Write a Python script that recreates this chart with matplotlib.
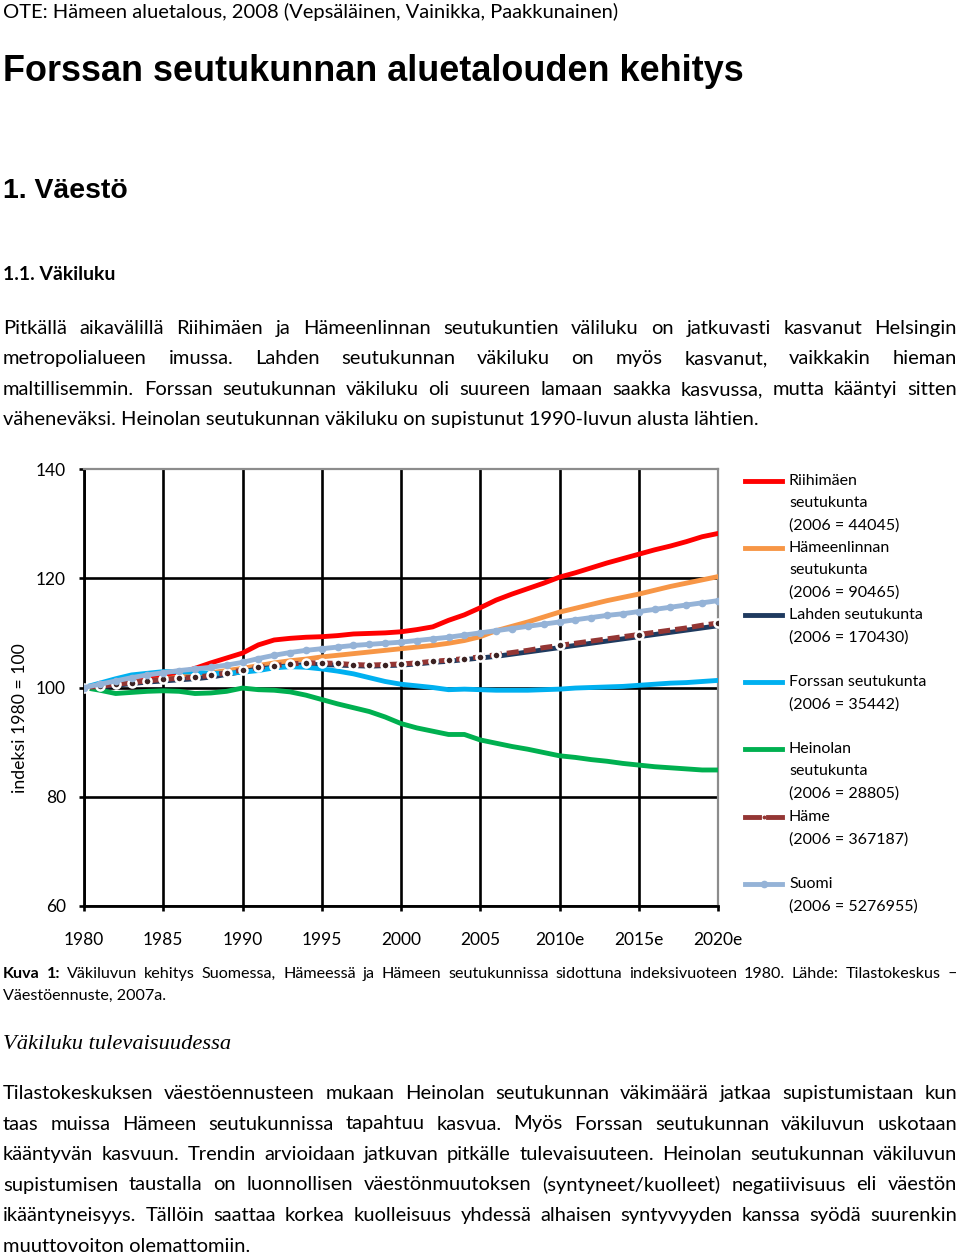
import matplotlib
matplotlib.use("Agg")
import matplotlib.pyplot as plt
from matplotlib.lines import Line2D

# ---------------- data (index 1980 = 100) ----------------
years = list(range(1980, 2021))

riihimaki = [100.0, 100.4, 100.8, 101.2, 101.6, 102.0, 102.6, 103.5, 104.5, 105.4,
             106.3, 107.8, 108.7, 109.0, 109.2, 109.3, 109.5, 109.8, 109.9, 110.0,
             110.2, 110.6, 111.1, 112.3, 113.3, 114.6, 116.0, 117.1, 118.1, 119.1,
             120.2, 121.0, 121.9, 122.8, 123.6, 124.4, 125.2, 125.9, 126.7, 127.6, 128.2]
hameenlinna = [100.0, 100.3, 100.6, 100.9, 101.2, 101.5, 101.9, 102.3, 102.7, 103.1,
               103.5, 104.0, 104.5, 104.9, 105.2, 105.6, 105.9, 106.2, 106.5, 106.8,
               107.1, 107.4, 107.7, 108.1, 108.6, 109.3, 110.4, 111.2, 112.0, 112.9,
               113.8, 114.5, 115.2, 115.9, 116.5, 117.1, 117.8, 118.5, 119.1, 119.7, 120.3]
lahti = [100.0, 100.1, 100.4, 100.7, 101.0, 101.2, 101.4, 101.6, 101.9, 102.4,
         102.9, 103.4, 103.7, 104.0, 104.2, 104.2, 104.1, 104.0, 103.9, 104.0,
         104.1, 104.3, 104.6, 104.8, 105.1, 105.4, 105.7, 106.1, 106.5, 106.9,
         107.3, 107.7, 108.1, 108.5, 108.9, 109.3, 109.7, 110.1, 110.5, 110.9, 111.3]
forssa = [100.0, 100.8, 101.6, 102.3, 102.6, 102.9, 102.9, 102.8, 102.6, 102.6,
          102.8, 103.1, 103.6, 103.8, 103.7, 103.4, 103.0, 102.5, 101.8, 101.1,
          100.6, 100.3, 100.0, 99.6, 99.7, 99.6, 99.5, 99.5, 99.5, 99.6,
          99.7, 99.9, 100.0, 100.1, 100.2, 100.4, 100.6, 100.8, 100.9, 101.1, 101.3]
heinola = [100.0, 99.5, 98.9, 99.1, 99.3, 99.4, 99.3, 98.9, 99.0, 99.3,
           99.9, 99.6, 99.5, 99.2, 98.6, 97.8, 97.0, 96.3, 95.6, 94.6,
           93.4, 92.6, 92.0, 91.4, 91.4, 90.4, 89.8, 89.2, 88.7, 88.1,
           87.5, 87.2, 86.8, 86.5, 86.1, 85.8, 85.5, 85.3, 85.1, 84.9, 84.9]
hame = [100.0, 100.2, 100.6, 100.9, 101.2, 101.5, 101.7, 101.9, 102.2, 102.7,
        103.2, 103.7, 104.0, 104.3, 104.5, 104.5, 104.4, 104.2, 104.1, 104.2,
        104.3, 104.5, 104.8, 105.0, 105.3, 105.6, 106.0, 106.4, 106.8, 107.3,
        107.7, 108.1, 108.5, 108.9, 109.3, 109.7, 110.1, 110.5, 110.9, 111.4, 111.8]
suomi = [100.0, 100.6, 101.2, 101.8, 102.3, 102.7, 103.1, 103.4, 103.7, 104.1,
         104.6, 105.3, 105.9, 106.4, 106.8, 107.1, 107.4, 107.7, 107.9, 108.1,
         108.3, 108.6, 108.9, 109.2, 109.6, 110.0, 110.4, 110.8, 111.2, 111.6,
         112.0, 112.4, 112.8, 113.2, 113.5, 113.9, 114.3, 114.7, 115.1, 115.5, 115.9]

xticks = [1980, 1985, 1990, 1995, 2000, 2005, 2010, 2015, 2020]
xticklabels = ["1980", "1985", "1990", "1995", "2000", "2005", "2010e", "2015e", "2020e"]
yticks = [60, 80, 100, 120, 140]

legend_labels = [
    ["Riihimäen", "seutukunta", "(2006 = 44045)"],
    ["Hämeenlinnan", "seutukunta", "(2006 = 90465)"],
    ["Lahden seutukunta", "(2006 = 170430)"],
    ["Forssan seutukunta", "(2006 = 35442)"],
    ["Heinolan", "seutukunta", "(2006 = 28805)"],
    ["Häme", "(2006 = 367187)"],
    ["Suomi", "(2006 = 5276955)"],
]

para1 = [
    "Pitkällä aikavälillä Riihimäen ja Hämeenlinnan seutukuntien väliluku on jatkuvasti kasvanut Helsingin",
    "metropolialueen imussa. Lahden seutukunnan väkiluku on myös kasvanut, vaikkakin hieman",
    "maltillisemmin. Forssan seutukunnan väkiluku oli suureen lamaan saakka kasvussa, mutta kääntyi sitten",
    "väheneväksi. Heinolan seutukunnan väkiluku on supistunut 1990-luvun alusta lähtien.",
]
para2 = [
    "Tilastokeskuksen väestöennusteen mukaan Heinolan seutukunnan väkimäärä jatkaa supistumistaan kun",
    "taas muissa Hämeen seutukunnissa tapahtuu kasvua. Myös Forssan seutukunnan väkiluvun uskotaan",
    "kääntyvän kasvuun. Trendin arvioidaan jatkuvan pitkälle tulevaisuuteen. Heinolan seutukunnan väkiluvun",
    "supistumisen taustalla on luonnollisen väestönmuutoksen (syntyneet/kuolleet) negatiivisuus eli väestön",
    "ikääntyneisyys. Tällöin saattaa korkea kuolleisuus yhdessä alhaisen syntyvyyden kanssa syödä suurenkin",
    "muuttovoiton olemattomiin.",
]
caption1 = "Kuva 1: Väkiluvun kehitys Suomessa, Hämeessä ja Hämeen seutukunnissa sidottuna indeksivuoteen 1980. Lähde: Tilastokeskus –"
caption2 = "Väestöennuste, 2007a."

# ---------------- colours ----------------
c_red = "#FF0000"
c_orange = "#F79646"
c_navy = "#1F3A5F"
c_forssa = "#00B0F0"
c_green = "#00B050"
c_hame = "#943634"
c_suomi = "#95B3D7"

BODY = "Lato"

W, H = 960, 1253
fig = plt.figure(figsize=(9.6, 12.53), dpi=100)
renderer = fig.canvas.get_renderer()


def fx(x):
    return x / W


def fy(y):
    return 1 - y / H


def wpx(t):
    return t.get_window_extent(renderer).width


def fit_size(s, width, size=14, **kw):
    t = fig.text(0, 0, s, fontsize=size, **kw)
    w = wpx(t)
    t.remove()
    return size * width / w


def justify(words, x0, x1, y, size, bold=0, **kw):
    # first `bold` words are set in bold
    ts = []
    for i, w in enumerate(words):
        fw = "bold" if i < bold else "normal"
        ts.append(fig.text(0, fy(y), w, fontsize=size, va="baseline", ha="left",
                           fontweight=fw, **kw))
    ws = [wpx(t) for t in ts]
    gap = (x1 - x0 - sum(ws)) / (len(ws) - 1)
    x = x0
    for t, w in zip(ts, ws):
        t.set_x(fx(x))
        x += w + gap


# ---------------- header text ----------------
s = fit_size("OTE: Hämeen aluetalous, 2008 (Vepsäläinen, Vainikka, Paakkunainen)", 619, family=BODY)
fig.text(fx(3), fy(18), "OTE: Hämeen aluetalous, 2008 (Vepsäläinen, Vainikka, Paakkunainen)",
         fontsize=s, family=BODY, va="baseline")
s = fit_size("Forssan seutukunnan aluetalouden kehitys", 743, family="Liberation Sans", fontweight="bold")
fig.text(fx(3), fy(81), "Forssan seutukunnan aluetalouden kehitys", fontsize=s,
         family="Liberation Sans", fontweight="bold", va="baseline")
s = fit_size("1. Väestö", 125, family="Liberation Sans", fontweight="bold")
fig.text(fx(3), fy(198), "1. Väestö", fontsize=s, family="Liberation Sans", fontweight="bold", va="baseline")
s = fit_size("1.1. Väkiluku", 113, family=BODY, fontweight="bold")
fig.text(fx(3), fy(280), "1.1. Väkiluku", fontsize=s, family=BODY, fontweight="bold", va="baseline")

body_size = fit_size(para1[-1], 760, family=BODY)
for i, line in enumerate(para1):
    yb = 334 + i * 30.5
    if i < len(para1) - 1:
        justify(line.split(), 3, 957, yb, body_size, family=BODY)
    else:
        fig.text(fx(3), fy(yb), line, fontsize=body_size, family=BODY, va="baseline")

# caption
cap_size = fit_size(caption2, 164, family=BODY)
justify(caption1.split(), 3, 957, 978, cap_size, bold=2, family=BODY)
fig.text(fx(3), fy(1000), caption2, fontsize=cap_size, family=BODY, va="baseline")

s = fit_size("Väkiluku tulevaisuudessa", 228, family="Liberation Serif", style="italic")
fig.text(fx(3), fy(1049), "Väkiluku tulevaisuudessa", fontsize=s, family="Liberation Serif",
         style="italic", va="baseline")

for i, line in enumerate(para2):
    yb = 1099 + i * 30.5
    if i < len(para2) - 1:
        justify(line.split(), 3, 957, yb, body_size, family=BODY)
    else:
        fig.text(fx(3), fy(yb), line, fontsize=body_size, family=BODY, va="baseline")

# ---------------- chart ----------------
ax = fig.add_axes([fx(84), fy(906), (718 - 84) / W, (906 - 469) / H])
lw = 3.5
ax.plot(years, riihimaki, color=c_red, lw=lw, solid_capstyle="round", zorder=3)
ax.plot(years, hameenlinna, color=c_orange, lw=lw, solid_capstyle="round", zorder=3)
ax.plot(years, lahti, color=c_navy, lw=lw, zorder=3)
ax.plot(years, forssa, color=c_forssa, lw=lw, solid_capstyle="round", zorder=3)
ax.plot(years, heinola, color=c_green, lw=lw, solid_capstyle="round", zorder=3)
hame_marks = list(range(0, 27)) + [30, 35, 40]
ax.plot(years, hame, color=c_hame, lw=3.6, dashes=(2.4, 1.0), zorder=4)
ax.plot(years, hame, ls="none", marker="o", ms=5.8, mfc="#3b2222", mec="white", mew=1.8,
        markevery=hame_marks, zorder=5)
ax.plot(years, suomi, color=c_suomi, lw=lw, marker="o", ms=4.5, mec=c_suomi, mfc=c_suomi,
        solid_capstyle="round", zorder=6)

ax.set_xlim(1980, 2020)
ax.set_ylim(60, 140)
ax.set_xticks(xticks)
ax.set_xticklabels(xticklabels)
ax.set_yticks(yticks)
ax.grid(True, color="black", lw=1.9, zorder=1)
ax.get_xgridlines()[-1].set_visible(False)
ax.get_ygridlines()[-1].set_visible(False)
ax.set_axisbelow(True)
for side in ["left", "bottom"]:
    ax.spines[side].set_color("black")
    ax.spines[side].set_linewidth(2.0)
for side in ["top", "right"]:
    ax.spines[side].set_color("#8c8c8c")
    ax.spines[side].set_linewidth(1.6)
ax.tick_params(axis="x", direction="out", length=3.6, width=1.9, pad=15, labelsize=12.5)
ax.tick_params(axis="y", direction="out", length=3.6, width=1.9, pad=9.5, labelsize=12.5)
for lab in ax.get_xticklabels() + ax.get_yticklabels():
    lab.set_family(BODY)

s = fit_size("indeksi 1980 = 100", 150, family=BODY)
fig.text(fx(20), fy(718), "indeksi 1980 = 100", fontsize=s, family=BODY, rotation=90,
         va="center", ha="center")

# ---------------- legend ----------------
leg_size = fit_size("Forssan seutukunta", 138, family=BODY)
leg_y = [481, 548, 615, 682, 749, 817, 884]
step = 22.4
for k, (lines, y0) in enumerate(zip(legend_labels, leg_y)):
    for j, txt in enumerate(lines):
        fig.text(fx(789), fy(y0 + j * step), txt, fontsize=leg_size, family=BODY, va="center")

handle_cols = [c_red, c_orange, c_navy, c_forssa, c_green]
for col, y0 in zip(handle_cols, leg_y[:5]):
    fig.add_artist(Line2D([fx(745), fx(782)], [fy(y0), fy(y0)], color=col, lw=3.5))
y0 = leg_y[5]
fig.add_artist(Line2D([fx(745), fx(759)], [fy(y0), fy(y0)], color=c_hame, lw=3.5))
fig.add_artist(Line2D([fx(768), fx(782)], [fy(y0), fy(y0)], color=c_hame, lw=3.5))
fig.add_artist(Line2D([fx(763.5)], [fy(y0)], ls="none", marker="o", ms=1.8, color=c_hame))
y0 = leg_y[6]
fig.add_artist(Line2D([fx(745), fx(782)], [fy(y0), fy(y0)], color=c_suomi, lw=3.5))
fig.add_artist(Line2D([fx(763.5)], [fy(y0)], ls="none", marker="o", ms=4.5, color=c_suomi))

fig.savefig("out.png", dpi=100)
